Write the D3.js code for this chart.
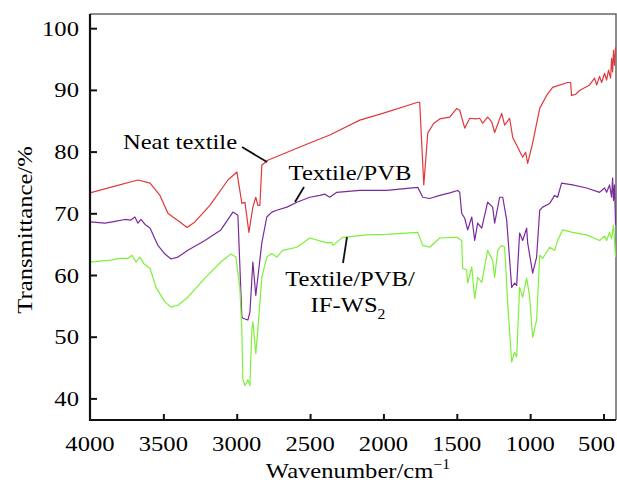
<!DOCTYPE html>
<html>
<head>
<meta charset="utf-8">
<script src="https://cdn.jsdelivr.net/npm/d3@7"></script>
<style>
  body { margin: 0; background: #fff; }
  text { font-family: "Liberation Serif"; font-weight: 400; fill: #000; }
</style>
</head>
<body>
<div id="chart"></div>
<script>
// FTIR spectra: [wavenumber, transmittance]
const neatTextile = [
  [4000, 73.3], [3830, 74.4], [3673, 75.4], [3591, 74.9], [3523, 72.9], [3469, 70.0],
  [3435, 69.4], [3387, 68.6], [3339, 67.7], [3285, 68.6], [3183, 71.3], [3060, 75.4],
  [2999, 76.7], [2965, 71.6], [2944, 71.8], [2917, 66.9], [2890, 71.0], [2870, 72.6],
  [2856, 71.3], [2842, 71.3], [2829, 77.8], [2788, 78.6], [2706, 79.4], [2502, 81.4],
  [2366, 82.7], [2161, 85.1], [2005, 86.2], [1766, 88.0], [1753, 88.0], [1725, 74.6],
  [1712, 78.6], [1698, 83.0], [1657, 84.6], [1616, 85.3], [1548, 85.6], [1500, 87.0],
  [1480, 86.7], [1446, 83.8], [1412, 85.4], [1371, 85.3], [1344, 85.4], [1324, 84.6],
  [1290, 85.6], [1262, 84.8], [1242, 83.1], [1194, 86.2], [1174, 84.3], [1140, 85.4],
  [1119, 82.3], [1085, 80.7], [1051, 79.1], [1031, 79.9], [1017, 78.1], [983, 81.4],
  [935, 87.0], [888, 89.1], [847, 90.4], [745, 91.2], [724, 91.2], [718, 89.1],
  [690, 89.3], [663, 89.9], [595, 90.8], [561, 91.9], [547, 90.8], [527, 92.2],
  [513, 91.2], [493, 92.7], [479, 91.6], [466, 93.2], [452, 91.9], [445, 95.1],
  [438, 92.9], [432, 96.4], [425, 94.0], [418, 96.9]
];

const textilePVB = [
  [4000, 68.6], [3898, 68.4], [3830, 68.7], [3762, 69.0], [3721, 68.9], [3694, 69.4],
  [3673, 68.4], [3653, 69.0], [3625, 68.2], [3591, 67.6], [3537, 64.8], [3489, 63.4],
  [3448, 62.6], [3401, 62.9], [3333, 64.0], [3217, 65.6], [3108, 67.3], [3026, 70.2],
  [2992, 69.7], [2965, 53.2], [2958, 53.0], [2924, 52.7], [2910, 54.0], [2890, 62.1],
  [2870, 56.7], [2856, 59.6], [2829, 65.2], [2795, 69.4], [2761, 70.2], [2727, 70.5],
  [2658, 71.0], [2590, 71.8], [2502, 72.6], [2434, 72.9], [2400, 73.1], [2366, 72.6],
  [2318, 73.4], [2161, 73.7], [1978, 73.7], [1766, 74.2], [1732, 72.6], [1685, 72.4],
  [1616, 72.9], [1548, 73.3], [1494, 73.7], [1480, 73.4], [1467, 70.0], [1446, 69.2],
  [1426, 67.3], [1398, 69.4], [1378, 65.6], [1358, 68.4], [1330, 67.6], [1290, 71.8],
  [1256, 71.0], [1242, 68.4], [1208, 72.6], [1187, 72.6], [1160, 68.9], [1126, 58.0],
  [1106, 58.7], [1092, 58.3], [1072, 66.8], [1051, 65.6], [1024, 67.6], [1017, 65.2],
  [983, 60.3], [956, 62.9], [935, 70.5], [915, 71.0], [867, 71.6], [833, 72.9],
  [813, 72.6], [786, 74.9], [711, 74.6], [615, 74.1], [527, 73.4], [493, 74.1],
  [479, 73.4], [459, 74.6], [445, 72.6], [438, 75.7], [432, 72.1], [425, 74.6], [418, 68.1]
];

const textilePVBWS2 = [
  [4000, 62.1], [3857, 62.4], [3796, 62.7], [3741, 62.7], [3714, 63.2], [3687, 62.1],
  [3660, 62.9], [3632, 61.8], [3591, 61.1], [3550, 58.0], [3489, 55.6], [3448, 54.8],
  [3401, 55.1], [3333, 56.4], [3217, 59.5], [3108, 62.1], [3040, 63.4], [3006, 62.9],
  [2979, 58.0], [2965, 51.1], [2958, 43.0], [2944, 42.1], [2924, 43.0], [2910, 42.1],
  [2897, 51.1], [2890, 52.4], [2870, 47.3], [2856, 51.1], [2829, 59.6], [2795, 62.9],
  [2761, 63.5], [2727, 62.9], [2686, 64.0], [2590, 64.5], [2502, 66.0], [2386, 65.2],
  [2352, 65.3], [2345, 64.8], [2277, 66.1], [2114, 66.5], [1978, 66.6], [1766, 66.9],
  [1732, 64.8], [1685, 64.5], [1616, 66.0], [1528, 66.1], [1500, 66.1], [1467, 65.6],
  [1460, 61.1], [1433, 60.8], [1426, 58.7], [1398, 61.3], [1378, 56.2], [1358, 59.6],
  [1330, 58.8], [1290, 64.0], [1256, 62.4], [1242, 59.6], [1221, 64.0], [1194, 64.8],
  [1174, 64.5], [1153, 55.4], [1126, 45.9], [1106, 47.5], [1092, 46.7], [1072, 58.0],
  [1051, 56.4], [1024, 59.5], [1003, 56.4], [983, 49.9], [956, 52.7], [935, 63.2],
  [915, 62.7], [867, 64.5], [833, 64.0], [813, 65.6], [779, 67.3], [711, 66.9],
  [615, 66.5], [527, 65.6], [493, 66.3], [479, 65.6], [459, 66.9], [445, 65.9],
  [432, 68.1], [425, 65.6], [418, 62.9]
];

const xTicks = [3500, 3000, 2500, 2000, 1500, 1000, 500];
const xTickLabels = [4000, 3500, 3000, 2500, 2000, 1500, 1000, 500];
const yTicks = [40, 50, 60, 70, 80, 90, 100];

const W = 617, H = 485;
const plot = {left: 90, right: 616, top: 14, bottom: 420};
const FS = 22, STRETCH = 1.12;

const svg = d3.select("#chart").append("svg")
    .attr("width", W)
    .attr("height", H);

const x = d3.scaleLinear().domain([4000, 415]).range([plot.left, plot.right]);
const y = d3.scaleLinear().domain([36.5, 102.3]).range([plot.bottom, plot.top]);

// the figure's serif text is a little wider than the font, so stretch it
function label(px, py, str, anchor, rot) {
  return svg.append("text")
      .attr("transform", `translate(${px},${py})${rot ? " rotate(" + rot + ")" : ""} scale(${STRETCH},1)`)
      .attr("text-anchor", anchor)
      .style("font-size", FS + "px")
      .text(str);
}

svg.append("clipPath").attr("id", "clip")
  .append("rect")
    .attr("x", plot.left).attr("y", plot.top)
    .attr("width", plot.right - plot.left).attr("height", plot.bottom - plot.top);

// top and right frame (grey)
svg.append("path")
    .attr("d", `M${plot.left},${plot.top}H${plot.right}V${plot.bottom}`)
    .attr("fill", "none")
    .attr("stroke", "#666")
    .attr("stroke-width", 1.5);

const line = d3.line().x(d => x(d[0])).y(d => y(d[1]));

const series = [
  {data: neatTextile, color: "#e0383b"},
  {data: textilePVB, color: "#7b2a9c"},
  {data: textilePVBWS2, color: "#7ef03a"}
];

svg.append("g").attr("clip-path", "url(#clip)")
  .selectAll("path")
  .data(series)
  .enter().append("path")
    .attr("d", d => line(d.data))
    .attr("fill", "none")
    .attr("stroke", d => d.color)
    .attr("stroke-width", 1.2)
    .attr("stroke-linejoin", "round");

// y axis, ticks pointing inward
const yAxis = svg.append("g")
    .attr("transform", `translate(${plot.left},0)`)
    .call(d3.axisRight(y).tickValues(yTicks).tickSize(7).tickFormat(""));
yAxis.select(".domain").remove();
yAxis.selectAll(".tick line").attr("stroke", "#111").attr("stroke-width", 2);
yTicks.forEach(v => label(79, y(v) + 7.5, v, "end"));

// x axis, ticks pointing inward
const xAxis = svg.append("g")
    .attr("transform", `translate(0,${plot.bottom})`)
    .call(d3.axisTop(x).tickValues(xTicks).tickSize(6).tickFormat(""));
xAxis.select(".domain").remove();
xAxis.selectAll(".tick line").attr("stroke", "#111").attr("stroke-width", 2);
// last label is pulled left to stay inside the picture
xTickLabels.forEach(v => label(v === 500 ? x(v) - 7 : x(v), 451, v, "middle"));

// left and bottom axis lines (black)
svg.append("path")
    .attr("d", `M${plot.left},${plot.top}V${plot.bottom}H${plot.right}`)
    .attr("fill", "none")
    .attr("stroke", "#111")
    .attr("stroke-width", 2.2);

// axis titles
label(32, 230, "Transmittance/%", "middle", -90);
const xt = label(358, 478, "Wavenumber/cm", "middle");
xt.append("tspan").attr("dy", -9).style("font-size", "14px").text("\u22121");

// curve labels and leader lines
label(180, 149, "Neat textile", "middle");
label(350, 180, "Textile/PVB", "middle");
label(350, 286, "Textile/PVB/", "middle");
const ws = label(348, 312, "IF-WS", "middle");
ws.append("tspan").attr("dy", 7).style("font-size", "14px").text("2");

const leaders = [
  [242, 147, 267, 162],
  [304, 187, 295, 202],
  [347, 237, 343, 263]
];
svg.selectAll(".leader")
    .data(leaders)
  .enter().append("line")
    .attr("class", "leader")
    .attr("x1", d => d[0]).attr("y1", d => d[1])
    .attr("x2", d => d[2]).attr("y2", d => d[3])
    .attr("stroke", "#111")
    .attr("stroke-width", 1.8);
</script>
</body>
</html>
